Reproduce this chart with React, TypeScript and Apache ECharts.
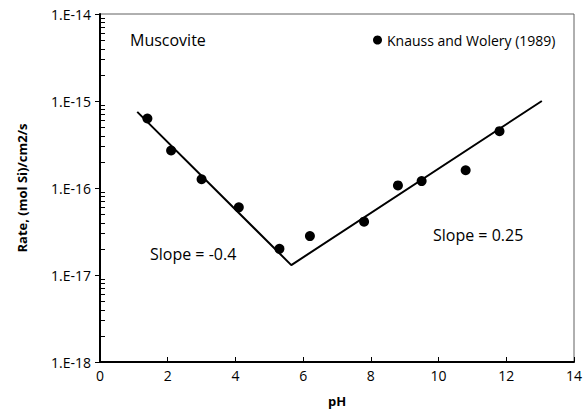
import React, { useEffect, useRef } from "react";
import * as echarts from "echarts";

const dataName = "Knauss and Wolery (1989)";
const pH = [1.4, 2.1, 3.0, 4.1, 5.3, 6.2, 7.8, 8.8, 9.5, 10.8, 11.8];
const rate = [6.3e-16, 2.7e-16, 1.26e-16, 6.0e-17, 2.0e-17, 2.8e-17, 4.1e-17, 1.07e-16, 1.2e-16, 1.6e-16, 4.5e-16];
const fitPH = [1.1, 5.65, 13.05];
const fitRate = [7.5e-16, 1.3e-17, 1.0e-15];
const minorMultipliers = [2, 3, 4, 5, 6, 7, 8, 9];
const decades = [1e-18, 1e-17, 1e-16, 1e-15];
const FONT = "Open Sans";

export default function App() {
  const ref = useRef<HTMLDivElement>(null);
  useEffect(() => {
    document.body.style.margin = "0";
    const chart = echarts.init(ref.current!, null, { renderer: "svg" });
    const texts: any[] = [
      { type: "text", left: 130, top: 32, style: { text: "Muscovite", fontFamily: FONT, fontSize: 16, fill: "#000" } },
      { type: "text", left: 150, top: 246, style: { text: "Slope = -0.4", fontFamily: FONT, fontSize: 16, fill: "#000" } },
      { type: "text", left: 433, top: 227, style: { text: "Slope = 0.25", fontFamily: FONT, fontSize: 16, fill: "#000" } },
    ];
    chart.setOption({
      animation: false,
      textStyle: { fontFamily: FONT },
      grid: { left: 100, right: 13, top: 14, bottom: 52, show: true, borderColor: "#606060", borderWidth: 1 },
      legend: {
        data: [{ name: dataName, icon: "circle" }],
        left: 368,
        top: 28,
        itemWidth: 9,
        itemHeight: 9,
        itemGap: 4,
        textStyle: { fontFamily: FONT, fontSize: 14, color: "#000" },
      },
      xAxis: {
        type: "value",
        min: 0,
        max: 14,
        interval: 2,
        name: "pH",
        nameLocation: "middle",
        nameGap: 32,
        nameTextStyle: { fontFamily: FONT, fontSize: 13, fontWeight: "bold", color: "#000" },
        axisLine: { show: true, lineStyle: { color: "#000", width: 2 } },
        axisTick: { show: true, inside: true, length: 5, lineStyle: { color: "#000", width: 1 } },
        axisLabel: { color: "#000", fontSize: 14, margin: 6, fontFamily: FONT },
        splitLine: { show: false },
      },
      yAxis: {
        type: "log",
        logBase: 10,
        min: 1e-18,
        max: 1e-14,
        name: "Rate, (mol Si)/cm2/s",
        nameLocation: "middle",
        nameGap: 72,
        nameTextStyle: { fontFamily: FONT, fontSize: 13, fontWeight: "bold", color: "#000" },
        axisLine: { show: true, lineStyle: { color: "#000", width: 2 } },
        axisTick: { show: true, inside: false, length: 5, lineStyle: { color: "#000", width: 1 } },
        axisLabel: {
          color: "#000",
          fontSize: 14,
          margin: 9,
          fontFamily: FONT,
          formatter: (v: number) => "1.E" + Math.round(Math.log10(v)),
        },
        splitLine: { show: false },
      },
      series: [
        {
          type: "line",
          name: "fit",
          data: fitPH.map((x, i) => [x, fitRate[i]]),
          symbol: "none",
          lineStyle: { color: "#000", width: 2 },
          z: 3,
        },
        {
          type: "scatter",
          name: dataName,
          data: pH.map((x, i) => [x, rate[i]]),
          symbol: "circle",
          symbolSize: 10,
          itemStyle: { color: "#000", opacity: 1 },
          z: 4,
        },
      ],
    });
    const minorTicks: any[] = [];
    decades.forEach((d) => {
      minorMultipliers.forEach((m) => {
        const p = chart.convertToPixel({ xAxisIndex: 0, yAxisIndex: 0 }, [0, m * d]) as number[];
        if (p && isFinite(p[1])) {
          minorTicks.push({
            type: "line",
            shape: { x1: p[0], y1: Math.round(p[1]) + 0.5, x2: p[0] + 5, y2: Math.round(p[1]) + 0.5 },
            style: { stroke: "#000", lineWidth: 1 },
            z: 100,
          });
        }
      });
    });
    chart.setOption({ graphic: [...texts, ...minorTicks] });
    return () => chart.dispose();
  }, []);
  return <div ref={ref} style={{ width: 587, height: 414 }} />;
}
